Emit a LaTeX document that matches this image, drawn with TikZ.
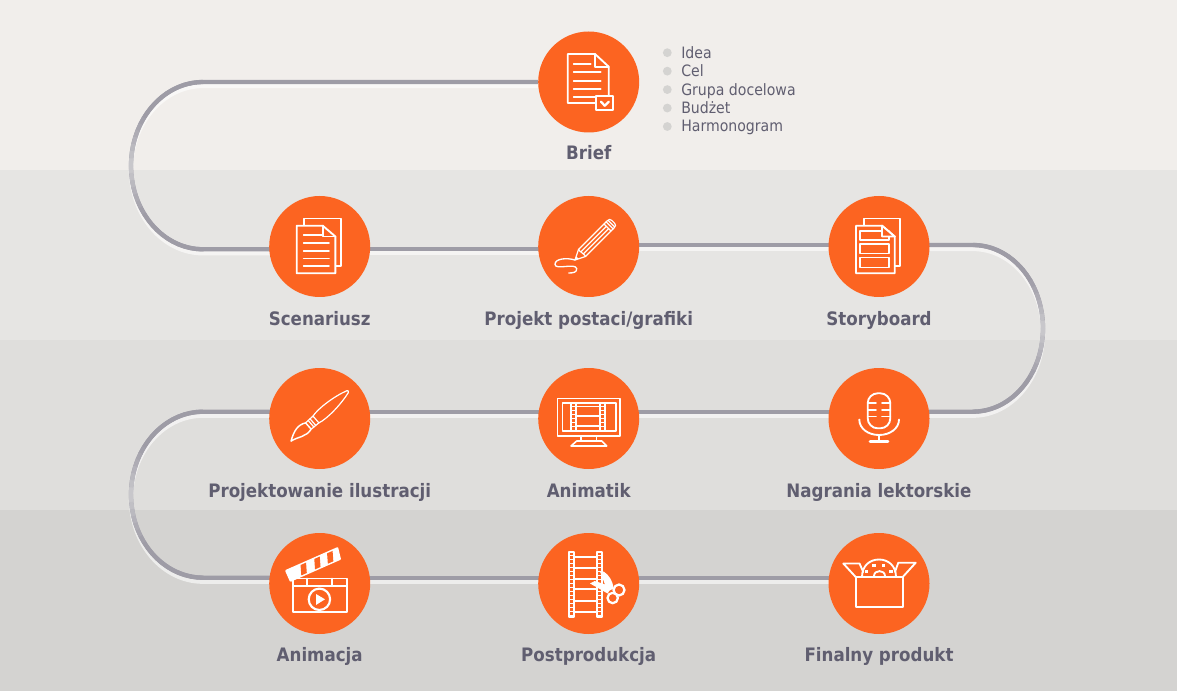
\documentclass[tikz,border=0pt]{standalone}
\usepackage{fontspec}
\setmainfont{DejaVu Sans Condensed}
\usetikzlibrary{positioning,backgrounds}
\definecolor{paper}{RGB}{241,238,235}
\definecolor{bandtwo}{RGB}{230,229,227}
\definecolor{bandthree}{RGB}{223,222,220}
\definecolor{bandfour}{RGB}{212,211,209}
\definecolor{tangerine}{RGB}{252,100,33}
\definecolor{slate}{RGB}{96,94,112}
\definecolor{pipedark}{RGB}{158,156,166}
\definecolor{pipepale}{RGB}{203,202,206}
\tikzset{
    stepdisc/.style={circle,fill=tangerine,minimum size=75.75pt,inner sep=0pt},
    steplabel/.style={text=slate,font=\fontsize{13.9}{14}\selectfont\bfseries,inner sep=0pt,text height=11pt,text depth=3pt},
    listdot/.style={circle,fill=bandfour,minimum size=6.6pt,inner sep=0pt},
    listtext/.style={text=slate,font=\fontsize{11.75}{12}\selectfont,inner sep=0pt,text height=10pt,text depth=3pt,anchor=west},
    pipe/.style={pipedark,line width=3.2pt},
    pipeglow/.style={white,opacity=.6,line width=3.2pt,transform canvas={yshift=-3pt}},
    icon/.style={white,line width=1.4pt,line join=round,line cap=round},
    thinicon/.style={icon,line width=.9pt}
}
% one bend of the pipe, paler where it runs upright
\newcommand{\pipebend}[3]{
    \begin{scope}[shift={(#1)}]
        \foreach \t in {0,5,...,175} {
            \pgfmathsetmacro{\mixv}{min(100,170*abs(cos(\t+2.5)))}
            \draw[pipedark!\mixv!pipepale,line width=3.2pt]
                ({#2*sin(\t)},{-#3*(1-cos(\t))}) -- ({#2*sin(\t+5.5)},{-#3*(1-cos(\t+5.5))});
        }
    \end{scope}
}
% sheet with a folded corner, x from -23 to 15.7
\newcommand{\frontsheet}{
    \draw[fill=tangerine] (-23,20.8) -- (3,20.8) -- (15.7,10) -- (15.7,-26.8) -- (-23,-26.8) -- cycle;
    \draw (3,20.8) -- (3,10) -- (15.7,10);
}
\newcommand{\backsheet}{
    \draw (-15.3,21) -- (-15.3,28) -- (21.3,28) -- (21.3,-19.5) -- (15.7,-19.5);
}
\begin{document}
\begin{tikzpicture}[x=.75pt,y=.75pt]
    \useasboundingbox (0,0) rectangle (1177,-691);

    % Steps
    \node[stepdisc] (brief) at (588.7,-82) {};
    \node[stepdisc] (scen) at (319.7,-246.5) {};
    \node[stepdisc] (proj) at (588.7,-246.5) {};
    \node[stepdisc] (story) at (879,-246.5) {};
    \node[stepdisc] (brush) at (319.7,-418.5) {};
    \node[stepdisc] (anim) at (588.7,-418.5) {};
    \node[stepdisc] (mic) at (879,-418.5) {};
    \node[stepdisc] (clap) at (319.7,-583.5) {};
    \node[stepdisc] (post) at (588.7,-583.5) {};
    \node[stepdisc] (box) at (879,-583.5) {};

    % Where the pipe leaves and meets its bends
    \coordinate (bendA) at (203,-82);
    \coordinate (bendAend) at (203,-249.3);
    \coordinate (bendB) at (203,-411.7);
    \coordinate (bendBend) at (203,-577.7);
    \coordinate (bendC) at (973,-245);
    \coordinate (bendCend) at (973,-411.7);

    % Bands and pipe go behind the discs
    \begin{scope}[on background layer]
        \fill[paper] (0,0) rectangle (1177,-170);
        \fill[bandtwo] (0,-170) rectangle (1177,-340);
        \fill[bandthree] (0,-340) rectangle (1177,-510);
        \fill[bandfour] (0,-510) rectangle (1177,-691);
        \foreach \s in {pipeglow,pipe} {
            \draw[\s] (brief) -- (bendA) arc[start angle=90,end angle=270,x radius=72,y radius=83.65] -- (scen |- bendAend);
            \draw[\s] (story |- bendC) -- (bendC) arc[start angle=90,end angle=-90,x radius=70,y radius=83.35] -- (mic |- bendCend);
            \draw[\s] (brush |- bendB) -- (bendB) arc[start angle=90,end angle=270,x radius=72,y radius=83] -- (clap |- bendBend);
            \foreach \a/\b/\c in {scen/proj/bendAend,proj/story/bendC,mic/anim/bendCend,anim/brush/bendB,clap/post/bendBend,post/box/bendBend} {
                \draw[\s] (\a |- \c) -- (\b |- \c);
            }
        }
        \pipebend{bendA}{-72}{83.65}
        \pipebend{bendB}{-72}{83}
        \pipebend{bendC}{70}{83.35}
    \end{scope}

    % Step names
    \node[steplabel,below=8.75pt of brief] (brieflabel) {Brief};
    \node[steplabel,below=9.75pt of scen] (scenlabel) {Scenariusz};
    \node[steplabel,below=9.75pt of proj] (projlabel) {Projekt postaci/grafiki};
    \node[steplabel,below=9.75pt of story] (storylabel) {Storyboard};
    \node[steplabel,below=9.75pt of brush] (brushlabel) {Projektowanie ilustracji};
    \node[steplabel,below=9.75pt of anim] (animlabel) {Animatik};
    \node[steplabel,below=9.75pt of mic] (miclabel) {Nagrania lektorskie};
    \node[steplabel,below=9.5pt of clap] (claplabel) {Animacja};
    \node[steplabel,below=9.5pt of post] (postlabel) {Postprodukcja};
    \node[steplabel,below=9.5pt of box] (boxlabel) {Finalny produkt};

    % Brief list
    \foreach \t [count=\i] in {Idea,Cel,Grupa docelowa,Budżet,Harmonogram} {
        \node[listdot] (dot\i) at (667.3,{-52.7-18.45*(\i-1)}) {};
        \node[listtext] (item\i) at (681,{-53.5-18.45*(\i-1)}) {\t};
    }

    % Brief icon
    \begin{scope}[shift={(brief)},icon]
        \draw (-21,28) -- (6.3,28) -- (20,15.3) -- (20,-21) -- (-21,-21) -- cycle;
        \draw (6.3,28) -- (6.3,15.3) -- (20,15.3);
        \draw (-15,18) -- (2,18);
        \foreach \y in {10,1.3,-6.7} {\draw (-15,\y) -- (12,\y);}
        \draw (-15,-15) -- (6,-15);
        \draw[fill=tangerine,line width=1.7pt] (7.3,-13.7) rectangle (24,-28);
        \draw[line width=1.7pt] (12.3,-19.7) -- (16,-23.7) -- (20,-19.7);
    \end{scope}

    % Scenariusz icon
    \begin{scope}[shift={(scen)},icon]
        \backsheet
        \frontsheet
        \draw (-16,11.5) -- (2,11.5);
        \foreach \y in {3.8,-4.5,-12,-19.5} {\draw (-16,\y) -- (9.3,\y);}
    \end{scope}

    % Pencil icon
    \begin{scope}[shift={(proj)},thinicon]
        \draw[line width=1pt] (-13.7,-13.5) .. controls (-22,-11) and (-34,-12) .. (-33.7,-18)
            .. controls (-33,-24) and (-14,-16) .. (-12,-22) .. controls (-11.5,-26) and (-16,-26.5) .. (-20,-26.5);
        \begin{scope}[shift={(-13.7,-13.5)},rotate=45]
            \draw (0,0) -- (10,5) -- (50,5) .. controls (53,5) and (54,4) .. (54,2) -- (54,-2) .. controls (54,-4) and (53,-5) .. (50,-5) -- (10,-5) -- cycle;
            \draw (10,-5) .. controls (11,-2) and (9,2) .. (10,5);
            \draw (10,1.6) -- (46,1.6);
            \draw (10,-1.6) -- (46,-1.6);
            \draw (46,5) -- (46,-5);
            \draw (49,5) -- (49,-5);
            \draw (51.5,4.5) -- (51.5,-4.5);
            \fill (0,0) -- (3.5,1.8) -- (3.5,-1.8) -- cycle;
        \end{scope}
    \end{scope}

    % Storyboard icon
    \begin{scope}[shift={(story)},icon]
        \backsheet
        \frontsheet
        \draw[fill=tangerine] (-18.7,15.8) rectangle (10,6.5);
        \draw (-18.7,2.2) rectangle (10,-7);
        \draw (-18.7,-11) rectangle (10,-21);
        \draw[fill=tangerine] (3,20.8) -- (15.7,10) -- (3,10) -- cycle;
    \end{scope}

    % Brush icon
    \begin{scope}[shift={(brush)},thinicon]
        \begin{scope}[shift={(0,2.3)},rotate=41]
            \draw (-5,-4.5) .. controls (4,-7) and (24,-5) .. (37,-1) .. controls (38.5,0) and (38.5,1) .. (37,1.5) .. controls (24,5.5) and (4,7) .. (-5,4.5) -- cycle;
            \draw (-15,-4.2) -- (-5,-4.5);
            \draw (-15,4.2) -- (-5,4.5);
            \draw (-9,-4.4) -- (-9,4.4);
            \draw (-11.5,-4.4) -- (-11.5,4.4);
            \draw[line width=1.1pt] (-15,4.2) .. controls (-22,8) and (-29,6) .. (-38,0) .. controls (-30,-1) and (-24,-7) .. (-15,-4.2) -- cycle;
        \end{scope}
    \end{scope}

    % Monitor icon
    \begin{scope}[shift={(anim)},thinicon]
        \draw[line width=1.2pt] (-31.3,20.2) rectangle (31.3,-17.5);
        \draw[line width=1.2pt] (-26.3,15.8) rectangle (27,-12.2);
        \draw (-17.7,15.8) -- (-17.7,-12.2);
        \draw (16.3,15.8) -- (16.3,-12.2);
        \draw (-12.7,15.8) -- (-12.7,-12.2);
        \draw (11.3,15.8) -- (11.3,-12.2);
        \foreach \y in {11.8,2.5,-7.5} {\draw (-12.7,\y) -- (11.3,\y);}
        \foreach \y in {13,9,5,1,-3,-7,-11} {
            \fill (-17.7,\y) rectangle (-12.7,\y-1.2);
            \fill (11.3,\y) rectangle (16.3,\y-1.2);
        }
        \draw (-7.7,-17.5) -- (-7.7,-22.5);
        \draw (8,-17.5) -- (8,-22.5);
        \draw[line width=1.2pt] (-12,-22.5) -- (13,-22.5) -- (18,-27.5) -- (-17.7,-27.5) -- cycle;
    \end{scope}

    % Microphone icon
    \begin{scope}[shift={(mic)},icon]
        \draw[rounded corners=7.5pt] (-11.3,25.2) rectangle (11.3,-9.8);
        \foreach \y in {15.2,8.5,2} {
            \draw (-11.3,\y) -- (-3,\y);
            \draw (3,\y) -- (11.3,\y);
        }
        \draw (-19.7,-1) .. controls (-19.7,-10) and (-11,-16.5) .. (0,-16.5) .. controls (11,-16.5) and (20,-10) .. (20,-1);
        \draw (0,-16.5) -- (0,-23);
        \draw[line width=2.2pt] (-9,-23.4) -- (9,-23.4);
    \end{scope}

    % Clapper icon
    \begin{scope}[shift={(clap)},icon]
        \draw (-26.3,5) rectangle (27,-28.2);
        \draw (-26.3,-2.2) -- (27,-2.2);
        \draw (-13,5) -- (-13,-2.2);
        \draw (12,5) -- (12,-2.2);
        \draw[line width=1.6pt] (-0.3,-15.8) circle (10.7);
        \fill (-3.7,-10.5) -- (5.3,-15.8) -- (-3.7,-21.5) -- cycle;
        \begin{scope}[shift={(-27.3,3.5)},rotate=23.8]
            \draw[fill=white] (-2,0) -- (52,0) -- (54,11) -- (-2,11) -- cycle;
            \foreach \u in {10,25,39} {
                \fill[tangerine] (\u,.6) -- (\u+6,.6) -- (\u+9.5,10.4) -- (\u+3.5,10.4) -- cycle;
            }
        \end{scope}
    \end{scope}

    % Film and scissors icon
    \begin{scope}[shift={(post)},icon]
        \draw[fill=tangerine] (-19.7,31.2) rectangle (-14.3,-33.8);
        \draw[fill=tangerine] (8,31.2) rectangle (13.7,-33.8);
        \foreach \y in {26.8,15.2,4.2,-5.5,-17.2,-28.8} {\draw (-14.3,\y) -- (8,\y);}
        \foreach \y in {29,25,...,-32} {
            \fill (-19.7,\y) rectangle (-14.3,\y-1.2);
            \fill (8,\y) rectangle (13.7,\y-1.2);
        }
        \fill (11.3,12) -- (15,12) .. controls (21,8) and (24,2) .. (25,-5) -- (19,-8) -- cycle;
        \fill (1.3,0) -- (6,2.5) -- (23,-3) -- (19,-10) -- cycle;
        \draw[fill=tangerine,line width=1.7pt] (30.3,-6.5) circle (5.5);
        \draw[fill=tangerine,line width=1.7pt] (24,-14.5) circle (5.2);
    \end{scope}

    % Box icon
    \begin{scope}[shift={(box)},icon]
        \draw (-23.3,6.5) rectangle (23.7,-23.2);
        \draw (-23.3,6.5) -- (-35.7,20) -- (-19.5,20) -- (-15.7,11.5);
        \draw (23.7,6.5) -- (36.7,20.8) -- (19.3,20.8) -- (16,11.7);
        \draw (-17,6.5) .. controls (-17,18) and (-9,24) .. (0,24) .. controls (9,24) and (17,18) .. (17,6.5);
        \draw (-5,7.5) .. controls (-5,14) and (6,14) .. (6,7.5);
        \foreach \x/\y in {-12.5/12,-5/18,4.5/18,12/12} {\fill (\x-1.8,\y-1.6) rectangle (\x+1.8,\y+1.6);}
    \end{scope}
\end{tikzpicture}
\end{document}
